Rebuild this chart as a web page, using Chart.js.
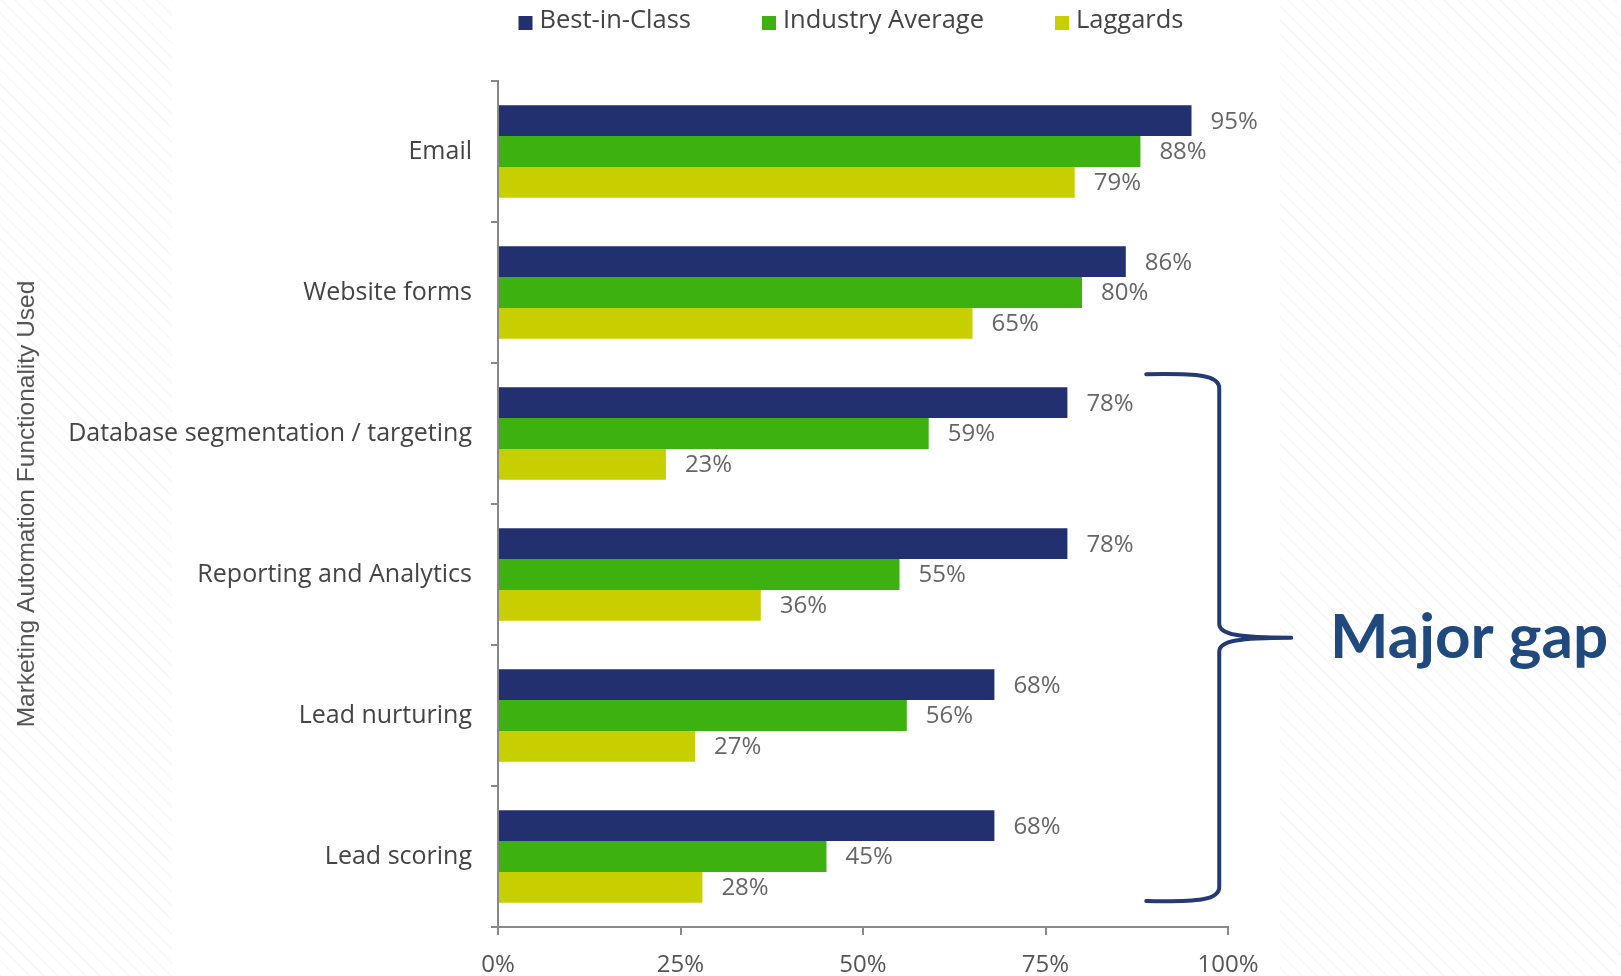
<!DOCTYPE html>
<html><head><meta charset="utf-8">
<script src="https://cdn.jsdelivr.net/npm/chart.js@4.4.1/dist/chart.umd.min.js"></script>
<style>
html,body{margin:0;padding:0;width:1621px;height:976px;overflow:hidden;
background:#fff repeating-linear-gradient(45deg, rgba(0,0,0,0.022) 0 2px, rgba(255,255,255,0) 2px 10px);}
#wrap{position:absolute;left:0;top:0;width:1621px;height:976px;}
</style></head><body><div id="wrap"><canvas id="c"></canvas></div>
<script>
const categories = ["Email","Website forms","Database segmentation / targeting","Reporting and Analytics","Lead nurturing","Lead scoring"];
const seriesNames = ["Best-in-Class","Industry Average","Laggards"];
const bestInClass = [95,86,78,78,68,68];
const industryAverage = [88,80,59,55,56,45];
const laggards = [79,65,23,36,27,28];
const xTicks = [0,25,50,75,100];
const yTitle = "Marketing Automation Functionality Used";
const annotationText = "Major gap";

const colors = ["#22306f","#3db10f","#c8cf00"];
const FONT = "'Open Sans', sans-serif";

const bgPlugin = {
  id:'bg',
  beforeDraw(chart){
    const ctx = chart.ctx;
    ctx.save(); ctx.fillStyle='#fff'; ctx.fillRect(172,0,1108,976); ctx.restore();
  }
};

const legendPlugin = {
  id:'customLegend',
  afterDraw(chart){
    const ctx = chart.ctx;
    ctx.save();
    ctx.font = "25.5px " + FONT;
    const box = 14, gap = 7, itemGap = 71;
    const items = chart.data.datasets.map(d=>({label:d.label,color:d.backgroundColor,w:ctx.measureText(d.label).width}));
    let total = items.reduce((s,i)=>s+box+gap+i.w,0)+itemGap*(items.length-1);
    let x = 851 - total/2;
    const y = 21;
    ctx.textBaseline='middle'; ctx.textAlign='left';
    items.forEach(i=>{
      ctx.fillStyle=i.color; ctx.fillRect(x, y-box/2+2, box, box);
      x += box+gap;
      ctx.fillStyle='#444'; ctx.fillText(i.label, x, y);
      x += i.w + itemGap;
    });
    ctx.restore();
  }
};

const valuePlugin = {
  id:'values',
  afterDatasetsDraw(chart){
    const ctx = chart.ctx;
    ctx.save();
    ctx.font = "24px " + FONT;
    ctx.fillStyle = '#666';
    ctx.textBaseline='middle'; ctx.textAlign='left';
    chart.data.datasets.forEach((ds,di)=>{
      const meta = chart.getDatasetMeta(di);
      meta.data.forEach((bar,i)=>{
        ctx.fillText(ds.data[i]+'%', bar.x+19, bar.y+1);
      });
    });
    ctx.restore();
  }
};

const bracePlugin = {
  id:'brace',
  afterDraw(chart){
    const ctx = chart.ctx;
    const ys = chart.scales.y, xs = chart.scales.x;
    const cw = ys.getPixelForValue(1)-ys.getPixelForValue(0);
    const top = ys.getPixelForValue(2) - 0.42*cw;
    const bot = ys.getPixelForValue(5) + 0.316*cw;
    const mid = (top+bot)/2;
    const xl = xs.getPixelForValue(88.8);
    const xv = xl + 73;
    const xt = xv + 72;
    ctx.save();
    ctx.strokeStyle = '#233a73';
    ctx.lineWidth = 4;
    ctx.lineCap='round'; ctx.lineJoin='round';
    ctx.beginPath();
    ctx.moveTo(xl, top);
    ctx.bezierCurveTo(xv-20, top-1, xv, top+1, xv, top+14);
    ctx.lineTo(xv, mid-14);
    ctx.bezierCurveTo(xv, mid-3, xv+20, mid, xt, mid);
    ctx.moveTo(xt, mid);
    ctx.bezierCurveTo(xv+20, mid, xv, mid+3, xv, mid+14);
    ctx.lineTo(xv, bot-14);
    ctx.bezierCurveTo(xv, bot-1, xv-20, bot+1, xl, bot);
    ctx.stroke();
    ctx.font = "bold 62px Lato, 'Open Sans', sans-serif";
    ctx.fillStyle = '#204a7e';
    ctx.textBaseline='alphabetic'; ctx.textAlign='left';
    ctx.fillText(annotationText, 1330, mid+20);
    ctx.restore();
  }
};

const dataSeries = [bestInClass, industryAverage, laggards];

new Chart(document.getElementById('c'), {
  type:'bar',
  data:{
    labels: categories,
    datasets: seriesNames.map((n,i)=>({label:n, data:dataSeries[i], backgroundColor:colors[i], borderWidth:0, categoryPercentage:0.655, barPercentage:1}))
  },
  options:{
    indexAxis:'y',
    responsive:true, maintainAspectRatio:false, animation:false,
    layout:{padding:{top:81,right:393,bottom:0,left:0}},
    plugins:{legend:{display:false}, tooltip:{enabled:false}},
    scales:{
      x:{
        min:0,max:100,
        afterFit(s){ s.height = 49; },
        afterBuildTicks(s){ s.ticks = xTicks.map(v=>({value:v})); },
        grid:{drawOnChartArea:false, tickLength:8, color:'#888', lineWidth:2},
        border:{color:'#888', width:2},
        ticks:{padding:16, color:'#555', font:{family:FONT,size:24}, callback:v=>v+'%', maxRotation:0}
      },
      y:{
        afterFit(s){ s.width = 498; },
        grid:{drawOnChartArea:false, tickLength:7, color:'#888', lineWidth:2, offset:true},
        border:{color:'#888', width:2},
        ticks:{padding:19, color:'#444', font:{family:FONT,size:25}},
        title:{display:true, text:yTitle, color:'#555', font:{family:"'Liberation Sans', Arial, sans-serif", size:24.5}, padding:{top:13,bottom:0}}
      }
    }
  },
  plugins:[bgPlugin, valuePlugin, legendPlugin, bracePlugin]
});
</script></body></html>
